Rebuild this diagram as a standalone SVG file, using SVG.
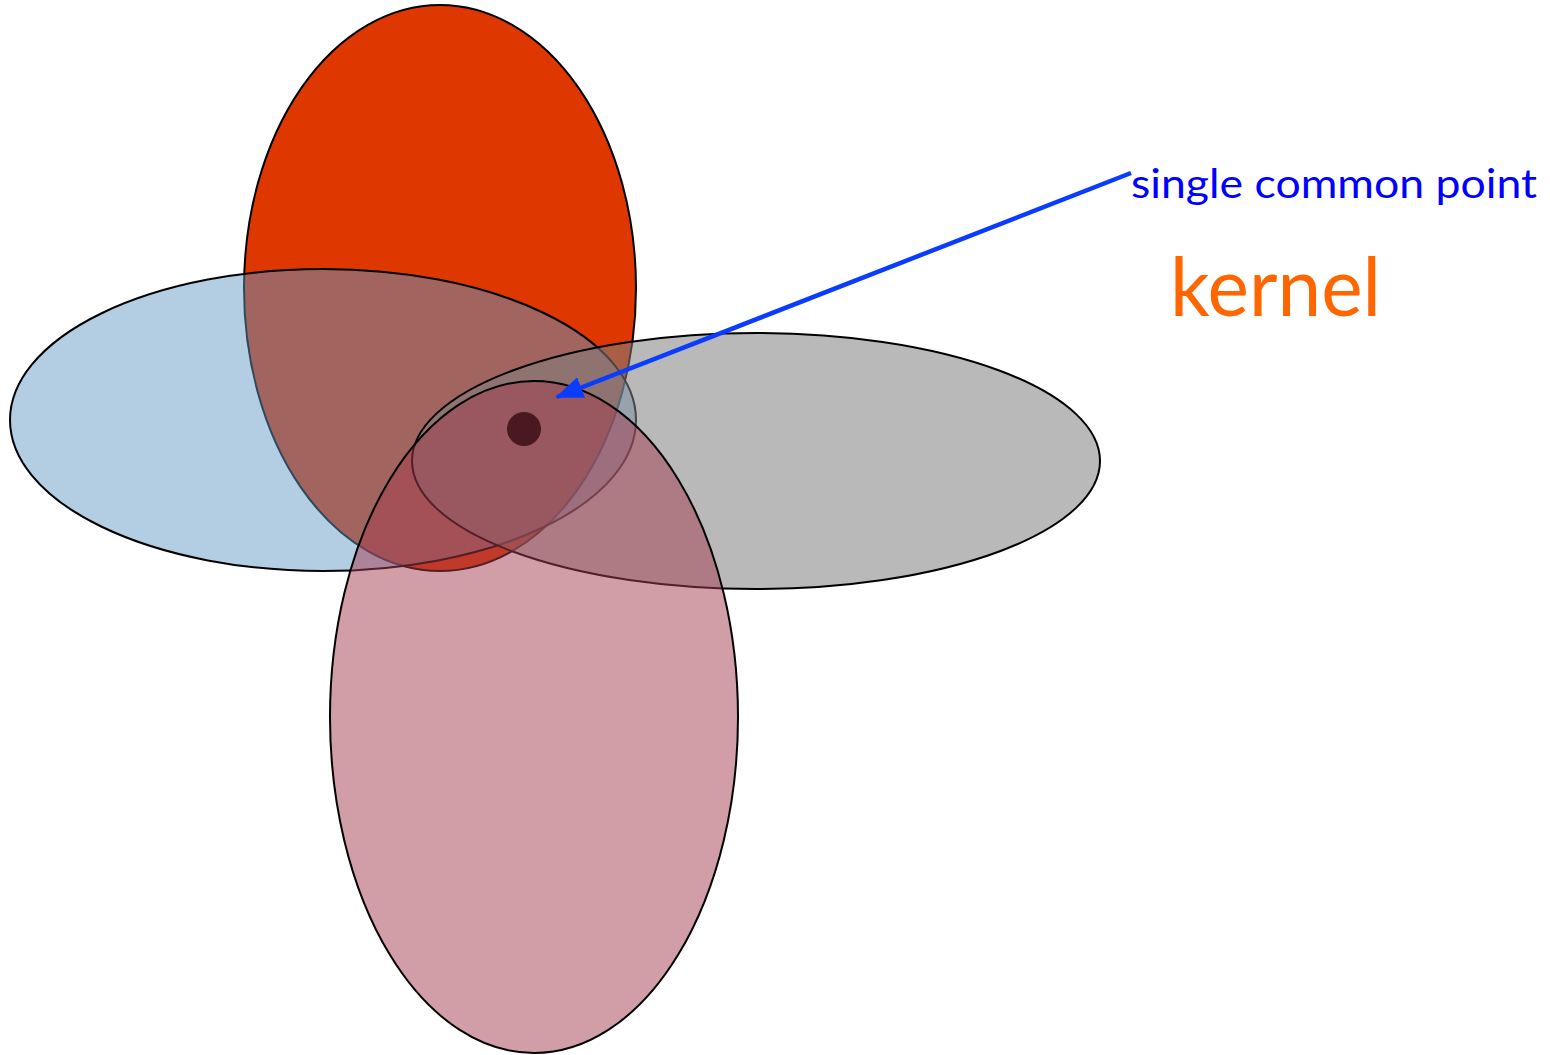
<svg xmlns="http://www.w3.org/2000/svg" width="1550" height="1055" viewBox="0 0 1550 1055">
<style>
.e{stroke:#000;stroke-width:2}
.lbl{font-family:Lato,"Open Sans","Liberation Sans",sans-serif}
</style>
<defs>
<marker id="ah" markerUnits="userSpaceOnUse" markerWidth="28" markerHeight="22" refX="26" refY="11" orient="auto">
<path d="M0,0 L28,11 L0,22 Z" fill="#0A3CFF"/>
</marker>
</defs>
<rect width="1550" height="1055" fill="#fff"/>
<g id="red"><ellipse class="e" cx="440" cy="288" rx="196" ry="283" fill="#DE3700"/></g>
<g id="blue"><ellipse class="e" cx="323" cy="420" rx="313" ry="151" fill="rgb(97,151,197)" fill-opacity="0.48"/></g>
<g id="gray"><ellipse class="e" cx="756" cy="461" rx="344" ry="128" fill="rgb(128,128,128)" fill-opacity="0.55"/></g>
<g id="pink"><ellipse class="e" cx="534" cy="717" rx="204" ry="336" fill="rgb(163,59,79)" fill-opacity="0.5"/></g>
<g id="point"><circle cx="524" cy="429" r="17" fill="#4A1820"/></g>
<g id="connectors">
<line x1="1131" y1="173" x2="557" y2="397" stroke="#0A3CFF" stroke-width="4.5" marker-end="url(#ah)"/>
</g>
<g id="labels">
<text class="lbl" x="1131" y="198" font-size="41" fill="#0000FF" textLength="406" lengthAdjust="spacingAndGlyphs">single common point</text>
<text class="lbl" x="1170" y="316" font-size="82" fill="#FF6600" textLength="211" lengthAdjust="spacingAndGlyphs">kernel</text>
</g>
</svg>
